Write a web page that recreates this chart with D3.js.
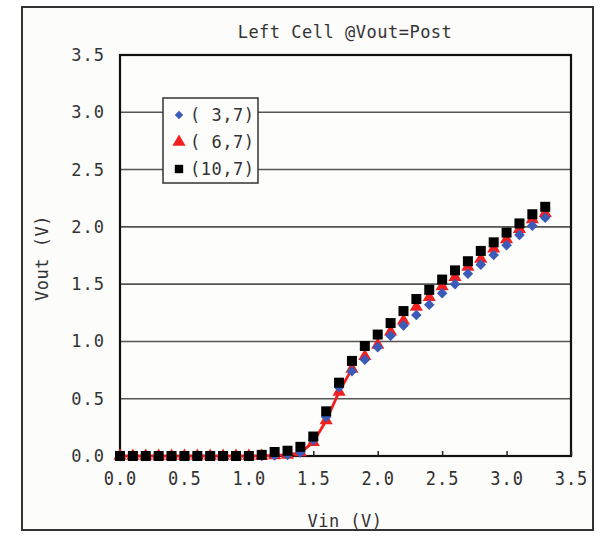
<!DOCTYPE html>
<html><head><meta charset="utf-8">
<script src="https://cdn.jsdelivr.net/npm/d3@7"></script>
<style>
html,body{margin:0;padding:0;background:#fff;}
svg text{font-family:"DejaVu Sans Mono","Liberation Mono",monospace;fill:#333;}
</style></head>
<body><svg id="c" width="600" height="541"></svg>
<script>
const vin = [0.0,0.1,0.2,0.3,0.4,0.5,0.6,0.7,0.8,0.9,1.0,1.1,1.2,1.3,1.4,1.5,1.6,1.7,1.8,1.9,2.0,2.1,2.2,2.3,2.4,2.5,2.6,2.7,2.8,2.9,3.0,3.1,3.2,3.3];
const vout37  = [0,0,0,0,0,0,0,0,0,0,0,0,0.005,0.01,0.03,0.14,0.34,0.60,0.74,0.84,0.95,1.05,1.14,1.23,1.32,1.42,1.50,1.59,1.67,1.755,1.84,1.93,2.01,2.08];
const vout67  = [0,0,0,0,0,0,0,0,0,0,0,0,0.005,0.01,0.03,0.12,0.31,0.56,0.76,0.87,0.97,1.085,1.18,1.30,1.385,1.48,1.56,1.65,1.72,1.81,1.89,1.98,2.065,2.12];
const vout107 = [0,0,0,0,0,0,0,0,0,0,0,0.01,0.035,0.046,0.08,0.17,0.39,0.64,0.83,0.96,1.06,1.16,1.265,1.37,1.45,1.54,1.62,1.70,1.79,1.865,1.95,2.03,2.11,2.175];
const seriesNames = ["( 3,7)","( 6,7)","(10,7)"];
const xTicks = [0,0.5,1.0,1.5,2.0,2.5,3.0,3.5];
const yTicks = [0,0.5,1.0,1.5,2.0,2.5,3.0,3.5];
const redLineMaxVin = 1.8;
const title = "Left Cell @Vout=Post";
const xLabel = "Vin (V)";
const yLabel = "Vout (V)";

const svg = d3.select("#c");
const L=120, T=55, R=571, B=456;
const x = d3.scaleLinear().domain([0,3.5]).range([L,R]);
const y = d3.scaleLinear().domain([0,3.5]).range([B,T]);

svg.append("rect").attr("x",22).attr("y",7).attr("width",571).attr("height",523)
  .attr("fill","#fcfcfa").attr("stroke","#333").attr("stroke-width",2);
svg.append("rect").attr("x",L).attr("y",T).attr("width",R-L).attr("height",B-T)
  .attr("fill","#fdfdfb");
svg.append("g").selectAll("line").data(yTicks.filter(d=>d>0&&d<3.5)).join("line")
  .attr("x1",L).attr("x2",R).attr("y1",d=>y(d)).attr("y2",d=>y(d))
  .attr("stroke","#555").attr("stroke-width",1.6);
svg.append("rect").attr("x",L).attr("y",T).attr("width",R-L).attr("height",B-T)
  .attr("fill","none").attr("stroke","#111").attr("stroke-width",2.2);

const xa = svg.append("g").attr("transform",`translate(0,${B})`)
  .call(d3.axisBottom(x).tickValues(xTicks).tickFormat(d3.format(".1f")).tickSizeInner(-5).tickSizeOuter(0).tickPadding(14));
xa.select(".domain").remove();
xa.selectAll(".tick line").attr("stroke","#222").attr("stroke-width",1.5);
xa.selectAll("text").attr("font-size",17).attr("letter-spacing",1).attr("fill","#333")
  .attr("transform","scale(1,1.12)");
const ya = svg.append("g").attr("transform",`translate(${L},0)`)
  .call(d3.axisLeft(y).tickValues(yTicks).tickFormat(d3.format(".1f")).tickSize(0).tickPadding(15));
ya.select(".domain").remove();
ya.selectAll("text").attr("font-size",17).attr("letter-spacing",1).attr("fill","#333");

svg.append("text").attr("x",345).attr("y",38).attr("text-anchor","middle")
  .attr("font-size",17).attr("letter-spacing",0.5).text(title);
svg.append("text").attr("x",345).attr("y",527).attr("text-anchor","middle")
  .attr("font-size",17).attr("letter-spacing",0.5).text(xLabel);
svg.append("text").attr("transform","translate(48,258) rotate(-90)").attr("text-anchor","middle")
  .attr("font-size",17).attr("letter-spacing",0.5).text(yLabel);

const pts = (arr)=>vin.map((v,i)=>[v,arr[i]]);
svg.append("path").datum(pts(vout67).filter(d=>d[0]<=redLineMaxVin))
  .attr("d",d3.line().x(d=>x(d[0])).y(d=>y(d[1])))
  .attr("fill","none").attr("stroke","#f02020").attr("stroke-width",2.8);

const diamond = d3.symbol().type(d3.symbolSquare).size(56);
const tri = d3.symbol().type(d3.symbolTriangle).size(75);
const sq = d3.symbol().type(d3.symbolSquare).size(100);

svg.append("g").selectAll("path").data(pts(vout67)).join("path")
  .attr("d",tri).attr("transform",d=>`translate(${x(d[0])},${y(d[1])})`).attr("fill","#f02020");
svg.append("g").selectAll("path").data(pts(vout37)).join("path")
  .attr("d",diamond).attr("transform",d=>`translate(${x(d[0])},${y(d[1])}) rotate(45)`).attr("fill","#3a5bb8");
svg.append("g").selectAll("path").data(pts(vout107)).join("path")
  .attr("d",sq).attr("transform",d=>`translate(${x(d[0])},${y(d[1])})`).attr("fill","#000");

const lg = svg.append("g").attr("transform","translate(163,98)");
lg.append("rect").attr("width",95).attr("height",85).attr("fill","#fdfdfb").attr("stroke","#333").attr("stroke-width",1.5);
const syms = [{s:d3.symbol().type(d3.symbolSquare).size(36),c:"#3a5bb8",r:45},{s:tri,c:"#f02020",r:0},{s:d3.symbol().type(d3.symbolSquare).size(70),c:"#000",r:0}];
seriesNames.forEach((n,i)=>{
  const yy = 17 + i*27;
  lg.append("path").attr("d",syms[i].s).attr("fill",syms[i].c).attr("transform",`translate(16,${yy}) rotate(${syms[i].r})`);
  lg.append("text").attr("x",27).attr("y",yy+6).attr("font-size",17).attr("letter-spacing",0.5).text(n);
});
</script></body></html>
